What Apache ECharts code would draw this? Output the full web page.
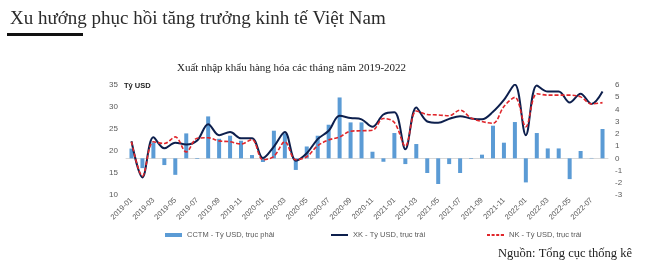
<!DOCTYPE html>
<html><head><meta charset="utf-8">
<script src="https://cdn.jsdelivr.net/npm/echarts@6/dist/echarts.min.js"></script>
<style>html,body{margin:0;padding:0;background:#fff}#c{width:650px;height:263px}</style>
</head><body><div id="c"></div>
<script>
const categories = [
 '2019-01','2019-02','2019-03','2019-04','2019-05','2019-06','2019-07','2019-08','2019-09','2019-10','2019-11','2019-12',
 '2020-01','2020-02','2020-03','2020-04','2020-05','2020-06','2020-07','2020-08','2020-09','2020-10','2020-11','2020-12',
 '2021-01','2021-02','2021-03','2021-04','2021-05','2021-06','2021-07','2021-08','2021-09','2021-10','2021-11','2021-12',
 '2022-01','2022-02','2022-03','2022-04','2022-05','2022-06','2022-07','2022-08'];
const cctm = [0.8,-0.8,1.3,-0.55,-1.35,2.04,-0.05,3.43,1.6,1.85,1.44,0.27,
 -0.3,2.26,2.04,-0.95,0.97,1.85,2.75,4.98,2.94,2.94,0.54,-0.28,
 2.07,-0.47,1.17,-1.2,-2.1,-0.47,-1.2,-0.05,0.3,2.67,1.28,2.97,
 -1.97,2.07,0.81,0.81,-1.7,0.6,0.03,2.4];
const xk = [22.2,14.0,23.1,20.6,21.9,21.5,22.4,26.1,23.6,24.3,22.9,22.9,
 18.4,21.0,24.3,17.8,19.5,22.7,24.6,28.0,27.5,27.2,25.5,28.3,
 28.8,20.4,29.9,26.7,26.4,27.3,27.9,27.4,27.2,28.9,31.6,35.1,
 23.6,34.9,33.5,33.5,31.0,33.0,30.7,33.5];
const nk = [22.1,14.3,22.1,21.7,23.2,19.8,22.9,23.0,22.3,22.1,21.6,22.6,
 18.0,18.8,22.1,18.0,18.7,21.2,22.5,23.2,24.5,24.6,24.7,27.4,
 26.5,21.1,29.1,28.3,28.2,28.0,29.3,27.5,26.7,26.3,30.1,32.2,
 25.5,33.0,32.7,32.7,32.7,32.3,30.7,31.0];
const leftTicks = {min:10,max:35,interval:5};
const rightTicks = {min:-3,max:6,interval:1};
const names = ['CCTM - Tỷ USD, trục phải','XK - Tỷ USD, trục trái','NK - Tỷ USD, trục trái'];

const chart = echarts.init(document.getElementById('c'));
const lblColor = '#595959';
const lblFont = 'Liberation Sans, Arial, sans-serif';
const legendText = {color:lblColor,fontSize:7.5,fontFamily:lblFont};
chart.setOption({
  animation:false,
  title:[
    {text:'Xu hướng phục hồi tăng trưởng kinh tế Việt Nam', left:5, top:5,
     textStyle:{fontFamily:'Liberation Serif, serif',fontSize:19,fontWeight:'normal',color:'#2b2b2b'}},
    {text:'Xuất nhập khẩu hàng hóa các tháng năm 2019-2022', left:172, top:58,
     textStyle:{fontFamily:'Liberation Serif, serif',fontSize:11,fontWeight:'normal',color:'#222'}},
    {text:'Nguồn: Tổng cục thống kê', left:493, top:242,
     textStyle:{fontFamily:'Liberation Serif, serif',fontSize:12.5,fontWeight:'normal',color:'#222'}}
  ],
  graphic:[{type:'rect',shape:{x:7,y:33,width:76,height:3},style:{fill:'#111'}}],
  legend:[
    {left:160,top:226,itemWidth:17,itemHeight:4,itemGap:4,textStyle:legendText,
     data:[{name:names[0],icon:'rect'}]},
    {left:326,top:226,itemWidth:17,itemHeight:2,itemGap:4,textStyle:legendText,
     data:[{name:names[1],icon:'path://M0 0H17V2H0Z'}]},
    {left:482,top:226,itemWidth:17,itemHeight:2,itemGap:4,textStyle:legendText,
     data:[{name:names[2],icon:'path://M0 0H3V2H0Z M4.6 0H7.6V2H4.6Z M9.2 0H12.2V2H9.2Z M13.8 0H17V2H13.8Z'}]}
  ],
  grid:{left:126,right:42,top:85,bottom:68},
  xAxis:{type:'category',data:categories,boundaryGap:true,
    axisLine:{lineStyle:{color:'#d9d9d9'}},axisTick:{show:false},
    axisLabel:{interval:1,rotate:45,fontSize:7.5,color:lblColor,fontFamily:lblFont,margin:4}},
  yAxis:[
    {type:'value',min:leftTicks.min,max:leftTicks.max,interval:leftTicks.interval,
     name:'Tỷ USD',nameLocation:'end',nameGap:-1,
     nameTextStyle:{fontSize:7.5,fontWeight:'bold',color:'#222',align:'left',verticalAlign:'middle',padding:[0,0,0,-2],fontFamily:lblFont},
     splitLine:{show:false},axisLine:{show:false},axisTick:{show:false},
     axisLabel:{fontSize:8,color:lblColor,fontFamily:lblFont,margin:8}},
    {type:'value',min:rightTicks.min,max:rightTicks.max,interval:rightTicks.interval,
     splitLine:{show:false},axisLine:{show:false},axisTick:{show:false},
     axisLabel:{fontSize:8,color:lblColor,fontFamily:lblFont,margin:7}}
  ],
  series:[
    {name:names[0],type:'bar',yAxisIndex:1,data:cctm,barWidth:4,itemStyle:{color:'#5b9bd5'}},
    {name:names[1],type:'line',yAxisIndex:0,data:xk,smooth:0.35,symbol:'none',
     lineStyle:{color:'#0d1f4d',width:2},itemStyle:{color:'#0d1f4d'}},
    {name:names[2],type:'line',yAxisIndex:0,data:nk,smooth:0.35,symbol:'none',
     lineStyle:{color:'#e0262b',width:1.6,type:[4,2]},itemStyle:{color:'#e0262b'}}
  ]
});
</script></body></html>
